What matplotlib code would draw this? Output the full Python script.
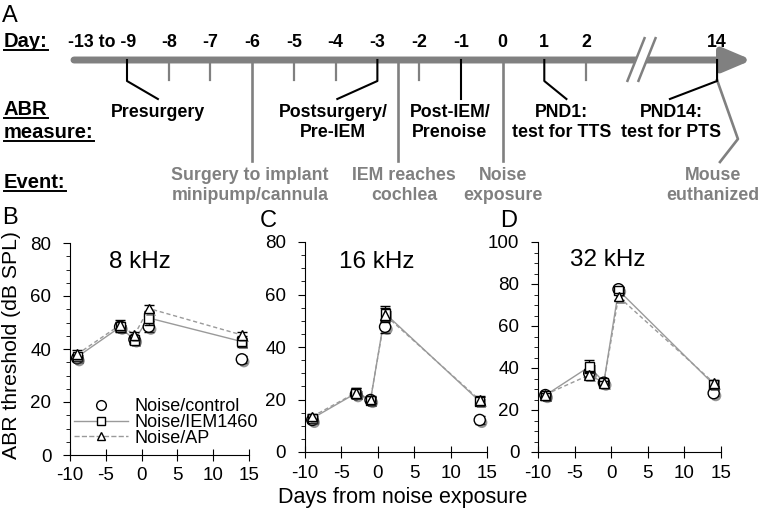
import matplotlib.pyplot as plt
import matplotlib.patheffects as pe
from matplotlib.lines import Line2D
from matplotlib.ticker import MultipleLocator
from matplotlib.transforms import IdentityTransform

plt.rcParams['font.family'] = ['Liberation Sans', 'DejaVu Sans']
plt.rcParams['axes.unicode_minus'] = False

# ---- panel A: timeline ----
timeline_days = [-9, -8, -7, -6, -5, -4, -3, -2, -1, 0, 1, 2, 14]
timeline_labels = ['-13 to -9', '-8', '-7', '-6', '-5', '-4', '-3', '-2',
                   '-1', '0', '1', '2', '14']
abr_days = [-9, -3, -1, 1, 14]
abr_names = ['Presurgery', 'Postsurgery/\nPre-IEM', 'Post-IEM/\nPrenoise',
             'PND1:\ntest for TTS', 'PND14:\ntest for PTS']
event_days = [-6, -2.5, 0, 14]
event_names = ['Surgery to implant\nminipump/cannula', 'IEM reaches\ncochlea',
               'Noise\nexposure', 'Mouse\neuthanized']

# ---- panels B-D: ABR thresholds (dB SPL) ----
days = [-9, -3, -1, 1, 14]
freqs = ['8 kHz', '16 kHz', '32 kHz']

ctrl_8 = [36.5, 48.4, 43.6, 48.4, 36.1]
ctrl_8_err = [1.2, 1.5, 1.2, 2.0, 1.3]
iem_8 = [37.0, 48.3, 43.4, 51.7, 42.8]
iem_8_err = [1.3, 2.0, 1.5, 2.5, 2.0]
ap_8 = [38.0, 49.1, 45.3, 55.3, 45.3]
ap_8_err = [1.5, 1.8, 1.3, 1.4, 1.2]

ctrl_16 = [12.2, 22.0, 19.8, 47.7, 12.2]
ctrl_16_err = [1.0, 1.5, 1.0, 2.5, 1.5]
iem_16 = [12.8, 22.4, 19.8, 52.8, 19.3]
iem_16_err = [1.2, 2.0, 1.2, 2.8, 1.5]
ap_16 = [13.5, 22.6, 20.0, 52.2, 19.8]
ap_16_err = [1.0, 1.8, 1.2, 2.5, 1.5]

ctrl_32 = [27.1, 37.5, 33.0, 77.5, 28.0]
ctrl_32_err = [1.0, 2.0, 1.0, 1.2, 1.5]
iem_32 = [27.0, 40.6, 33.3, 77.0, 32.2]
iem_32_err = [1.2, 3.2, 1.2, 1.5, 1.5]
ap_32 = [27.3, 36.7, 33.0, 74.0, 33.0]
ap_32_err = [1.0, 1.5, 1.0, 1.5, 1.5]

series = [
    [(ctrl_8, ctrl_8_err), (iem_8, iem_8_err), (ap_8, ap_8_err)],
    [(ctrl_16, ctrl_16_err), (iem_16, iem_16_err), (ap_16, ap_16_err)],
    [(ctrl_32, ctrl_32_err), (iem_32, iem_32_err), (ap_32, ap_32_err)],
]
group_names = ['Noise/control', 'Noise/IEM1460', 'Noise/AP']
markers = ['o', 's', '^']
msizes = [8, 6.5, 7]
lstyles = ['none', '-', '--']
ylims = [80, 80, 100]

W, H = 762, 512
fig = plt.figure(figsize=(W / 100, H / 100), dpi=100)

# overlay axes in pixel units for the timeline
axA = fig.add_axes([0, 0, 1, 1], zorder=0)
axA.set_xlim(0, W)
axA.set_ylim(H, 0)
axA.axis('off')

DAY_PX = 41.73
X_M9 = 127
BAR_Y = 60
GREY = '#808080'
TFS = 12.8   # timeline text size


def pos(d):
    # timeline is broken between day 2 and day 14
    s = d if d <= 2 else d - 8.86
    return X_M9 + (s + 9) * DAY_PX


def lines_text(x, y0, text, gap, **kw):
    for k, line in enumerate(text.split('\n')):
        axA.text(x, y0 + k * gap, line, ha='center', va='baseline', **kw)


# main bar with arrow head
axA.annotate('', xy=(752, BAR_Y), xytext=(74, BAR_Y),
             arrowprops=dict(arrowstyle='-|>,head_length=0.85,head_width=0.36',
                             lw=5, color=GREY, shrinkA=0, shrinkB=0,
                             mutation_scale=20))

# axis break
bx = 641.5
axA.fill([bx - 14.5, bx + 3.5, bx + 14.5, bx - 3.5], [82, 37, 37, 82],
         color='white', zorder=3)
for off in (-8.5, 2.5):
    axA.plot([bx + off - 6, bx + off + 12], [82, 37], color=GREY, lw=1.8,
             zorder=4, solid_capstyle='butt')

# day labels
for d, lab in zip(timeline_days, timeline_labels):
    if d == -9:
        axA.text(pos(d) + 9, 47, lab, ha='right', va='baseline',
                 fontsize=TFS, fontweight='bold')
    else:
        axA.text(pos(d), 47, lab, ha='center', va='baseline',
                 fontsize=TFS, fontweight='bold')

# small ticks on days without a measure or an event
for d in timeline_days:
    if d not in abr_days and d not in event_days:
        axA.plot([pos(d), pos(d)], [BAR_Y, 80], color=GREY, lw=1.6)

# ABR measure connectors (black) and labels
abr_line_end = [0.74, -0.96, 0.0, 0.53, -1.13]
abr_text_shift = [0.74, -1.06, -0.26, 0.42, -1.10]
for d, name, le, ts in zip(abr_days, abr_names, abr_line_end, abr_text_shift):
    x = pos(d)
    axA.plot([x, x, x + le * DAY_PX], [BAR_Y, 81, 99], color='black',
             lw=1.5, zorder=5)
    lines_text(x + ts * DAY_PX, 117, name, 20, fontsize=TFS,
               fontweight='bold')

# event connectors (grey) and labels
event_text_shift = [-0.05, 0.14, 0.0, -0.1]
for d, name, ts in zip(event_days, event_names, event_text_shift):
    x = pos(d)
    if d == 14:
        axA.plot([x, x + 0.5 * DAY_PX, x + 0.07 * DAY_PX], [80, 139, 162],
                 color=GREY, lw=1.9)
    else:
        axA.plot([x, x], [BAR_Y, 161], color=GREY, lw=1.9)
    lines_text(x + ts * DAY_PX, 180, name, 20, fontsize=TFS,
               fontweight='bold', color=GREY)

# row headings (underlined)
row_heads = [('Day:', 47), ('ABR', 115), ('measure:', 138), ('Event:', 188)]
head_texts = []
for txt, yb in row_heads:
    head_texts.append(axA.text(4, yb, txt, ha='left', va='baseline',
                               fontsize=14.5, fontweight='bold'))

# ---- panels B-D ----
rects = [[70 / W, 1 - 455 / H, 179 / W, 212 / H],
         [305 / W, 1 - 452 / H, 182 / W, 210 / H],
         [538 / W, 1 - 452 / H, 183 / W, 210 / H]]
title_pos = [(0.39, 0.91), (0.396, 0.905), (0.38, 0.914)]
shadow = [pe.SimplePatchShadow(offset=(1.5, -1.8), shadow_rgbFace='0.25',
                               alpha=0.55), pe.Normal()]

for i, rect in enumerate(rects):
    ax = fig.add_axes(rect, zorder=2)
    ax.patch.set_alpha(0)
    for j, (vals, errs) in enumerate(series[i]):
        if lstyles[j] != 'none':
            ax.plot(days, vals, color='#9a9a9a', lw=1.0, ls=lstyles[j],
                    dashes=(3, 2) if lstyles[j] == '--' else (None, None),
                    zorder=2)
        cont = ax.errorbar(days, vals, yerr=errs, fmt=markers[j], ms=msizes[j],
                           mfc='white', mec='black', mew=1.0, ecolor='black',
                           elinewidth=1.0, capsize=3.5, capthick=1.0,
                           zorder=3 + j, clip_on=False)
        cont.lines[0].set_path_effects(shadow)
    ax.set_xlim(-10, 15)
    ax.set_ylim(0, ylims[i])
    ax.set_xticks(range(-10, 16, 5))
    ax.yaxis.set_major_locator(MultipleLocator(20))
    ax.yaxis.set_minor_locator(MultipleLocator(5))
    ax.spines[['top', 'right']].set_visible(False)
    ax.tick_params(axis='y', which='major', direction='out', length=5,
                   labelsize=13.5, pad=8.5)
    ax.tick_params(axis='y', which='minor', direction='out', length=3)
    ax.tick_params(axis='x', direction='inout', length=8, labelsize=13.5,
                   pad=5)
    ax.text(title_pos[i][0], title_pos[i][1], freqs[i], transform=ax.transAxes,
            ha='center', va='center', fontsize=17.5)
    if i == 0:
        handles = [Line2D([], [], color='#9a9a9a', lw=1.0, ls=lstyles[j],
                          marker=markers[j], ms=msizes[j] - 1, mfc='white',
                          mec='black', mew=1.0)
                   for j in range(3)]
        ax.legend(handles, group_names, loc='lower left',
                  bbox_to_anchor=(0.02, 0.04), frameon=False, fontsize=13,
                  handlelength=3.0, handletextpad=0.4, labelspacing=-0.08,
                  borderpad=0, borderaxespad=0)

fig.text(12 / W, 1 - 345 / H, 'ABR threshold (dB SPL)', rotation=90,
         ha='center', va='center', fontsize=15.2)
fig.text(403 / W, 1 - 503 / H, 'Days from noise exposure', ha='center',
         va='baseline', fontsize=15.5)

for lab, x, y in [('A', 2, 22), ('B', 2, 224), ('C', 260, 227), ('D', 500, 227)]:
    fig.text(x / W, 1 - y / H, lab, ha='left', va='baseline', fontsize=17)

# underline the row headings
fig.canvas.draw()
r = fig.canvas.get_renderer()
for t in head_texts:
    bb = t.get_window_extent(renderer=r)
    fig.add_artist(Line2D([bb.x0, bb.x1], [bb.y0 + 1, bb.y0 + 1], lw=1.4,
                          color='black', transform=IdentityTransform()))

fig.savefig('out.png', dpi=100)
